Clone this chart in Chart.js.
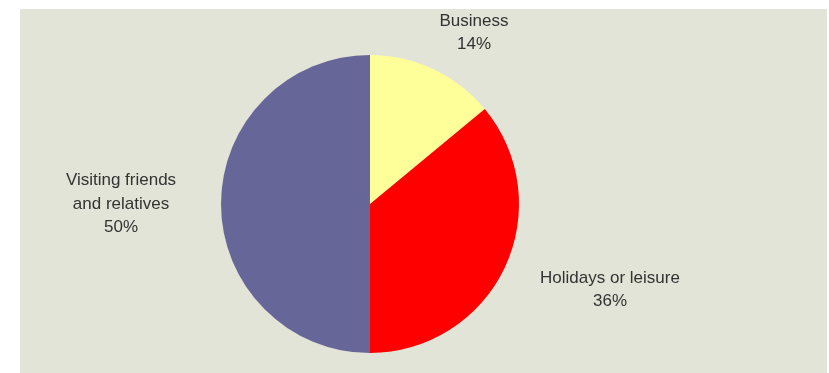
<!DOCTYPE html>
<html>
<head>
<meta charset="utf-8">
<script src="https://cdn.jsdelivr.net/npm/chart.js@4"></script>
<style>
  html, body { margin: 0; padding: 0; background: #ffffff; }
  #wrap { position: relative; width: 829px; height: 373px; }
  #panel { position: absolute; left: 20px; top: 9px; width: 807px; height: 364px; background: #e1e4d6; }
  #box { position: absolute; left: 0; top: 0; width: 829px; height: 373px; }
</style>
</head>
<body>
<div id="wrap">
  <div id="panel"></div>
  <div id="box"><canvas id="graficoPizza"></canvas></div>
</div>
<script>
// dados
const categorias = [["Business"], ["Holidays or leisure"], ["Visiting friends", "and relatives"]];
const percentuais = [14, 36, 50];
const cores = ["#ffff99", "#ff0000", "#666699"];
// onde fica cada rotulo, relativo ao centro da pizza
const posRotulos = [{ dx: 104, dy: -171 }, { dx: 240, dy: 86 }, { dx: -249, dy: 0 }];

const rotulosPlugin = {
  id: 'rotulos',
  afterDatasetsDraw(chart) {
    const ctx = chart.ctx;
    const arco = chart.getDatasetMeta(0).data[0];
    const cx = arco.x, cy = arco.y;
    ctx.save();
    ctx.font = '17px "Liberation Sans", Arial, sans-serif';
    ctx.fillStyle = '#333333';
    ctx.textAlign = 'center';
    ctx.textBaseline = 'middle';
    const alturaLinha = 23.5;
    categorias.forEach((linhas, i) => {
      const tudo = linhas.concat([percentuais[i] + '%']);
      const y0 = cy + posRotulos[i].dy - (tudo.length - 1) * alturaLinha / 2;
      tudo.forEach((txt, j) => {
        ctx.fillText(txt, cx + posRotulos[i].dx, y0 + j * alturaLinha);
      });
    });
    ctx.restore();
  }
};

const graficoPizza = document.querySelector('#graficoPizza');
new Chart(graficoPizza, {
  type: 'pie',
  data: {
    labels: categorias.map(c => c.join(' ')),
    datasets: [{
      data: percentuais,
      backgroundColor: cores,
      borderWidth: 0
    }]
  },
  options: {
    responsive: true,
    maintainAspectRatio: false,
    animation: false,
    layout: { padding: { left: 221, right: 310, top: 55, bottom: 20 } },
    plugins: {
      legend: { display: false },
      tooltip: { enabled: false }
    }
  },
  plugins: [rotulosPlugin]
});
</script>
</body>
</html>
